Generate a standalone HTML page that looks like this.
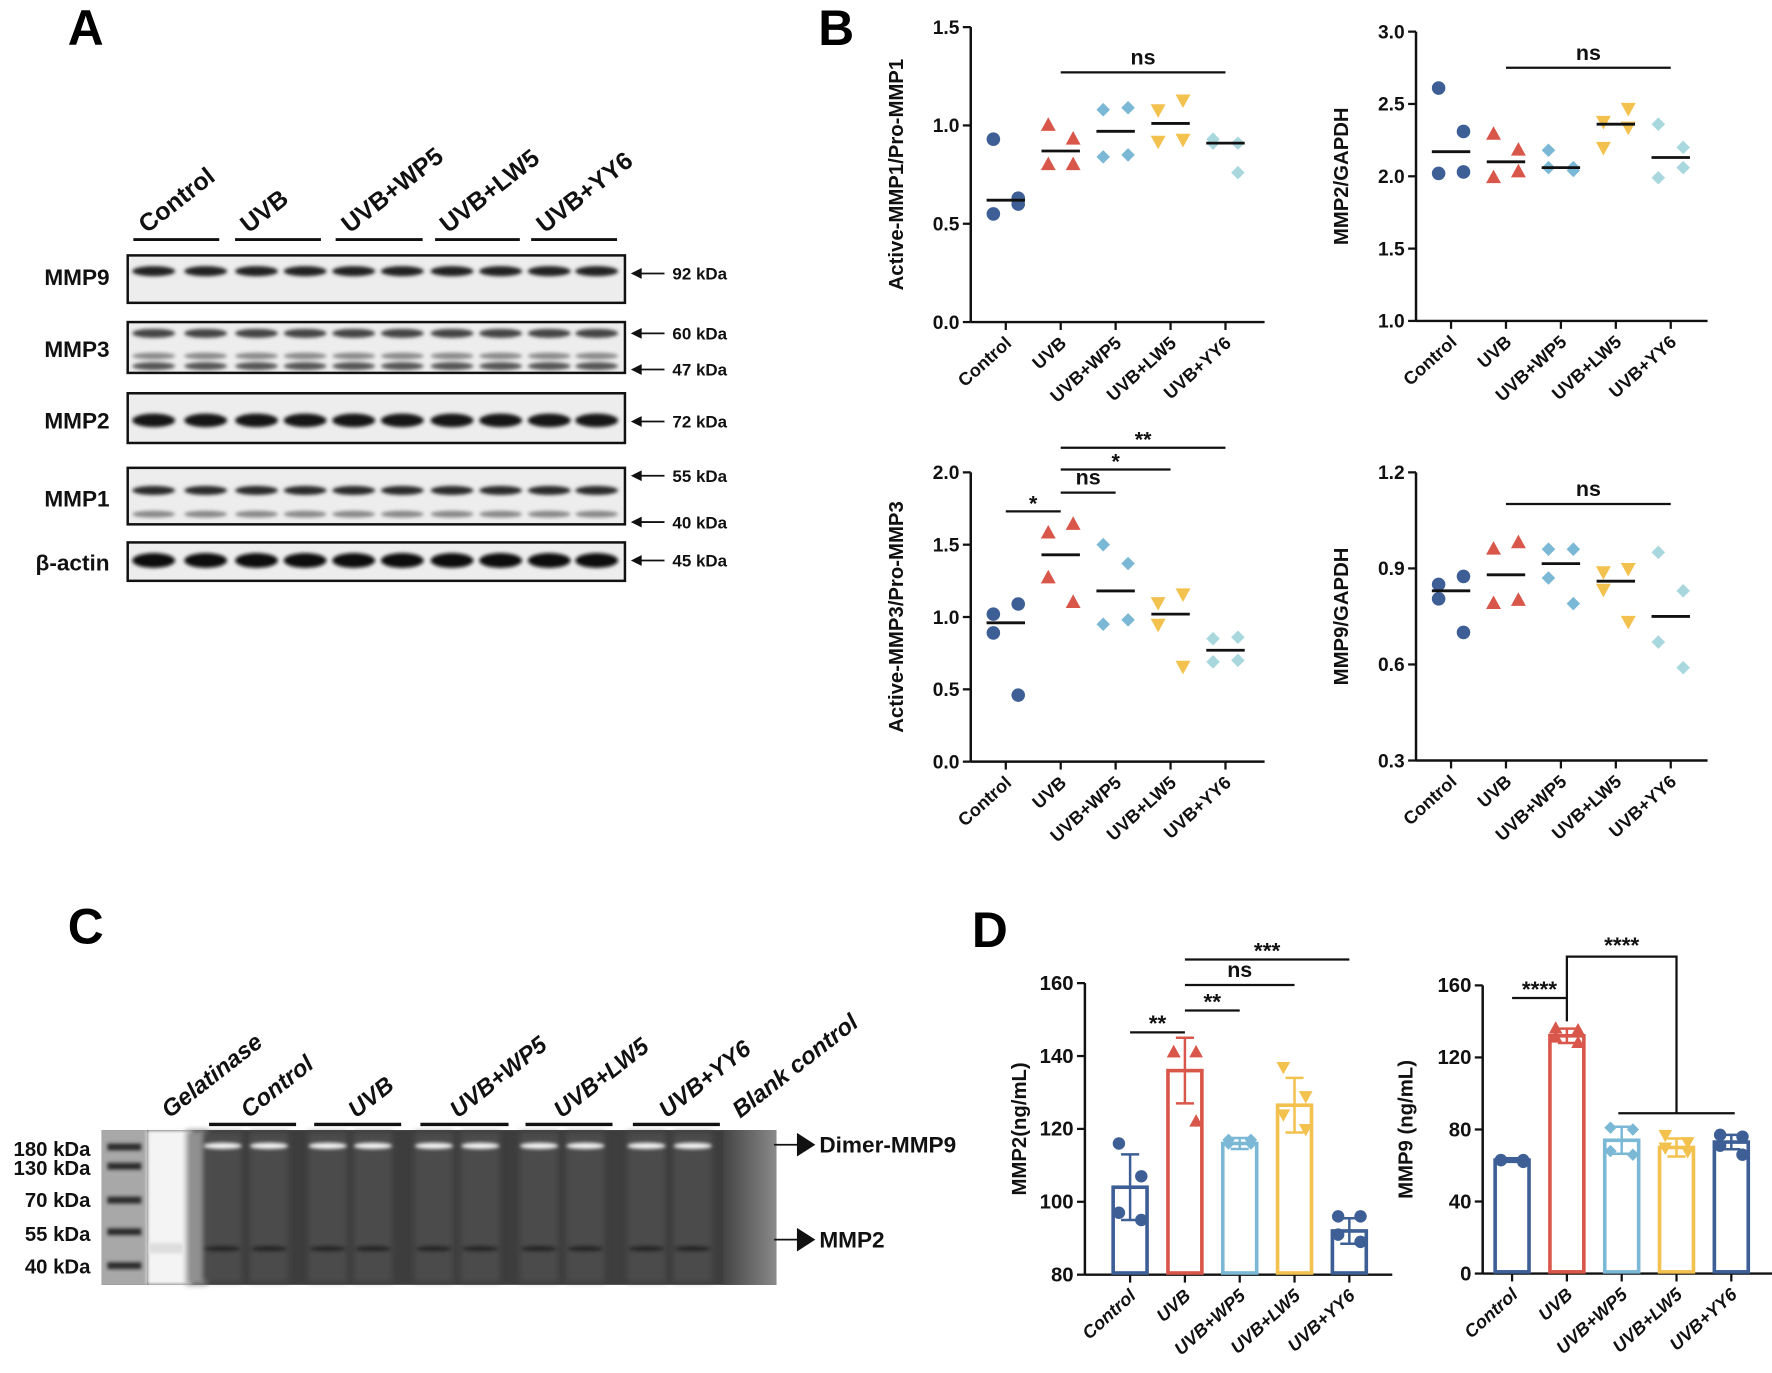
<!DOCTYPE html>
<html><head><meta charset="utf-8">
<style>
html,body{margin:0;padding:0;background:#fff;}
svg{display:block;font-family:"Liberation Sans",Arial,sans-serif;font-weight:bold;}
</style></head>
<body>
<svg id="fig" width="1772" height="1373" viewBox="0 0 1568 1215" preserveAspectRatio="none" xmlns="http://www.w3.org/2000/svg">
<defs>
<filter id="blur1" x="-20%" y="-50%" width="140%" height="200%"><feGaussianBlur stdDeviation="1.6"/></filter>
<filter id="blur2" x="-20%" y="-50%" width="140%" height="200%"><feGaussianBlur stdDeviation="2.5"/></filter>
<linearGradient id="blankg" x1="0" x2="1" y1="0" y2="0"><stop offset="0" stop-color="#444"/><stop offset="1" stop-color="#8a8a8a"/></linearGradient>
</defs>
<g id="panelA"></g>
<g id="panelB"></g>
<g id="panelC"></g>
<g id="panelD"></g>
</svg>
<script>
const NS = "http://www.w3.org/2000/svg";
function mk(tag, attrs, parent, txt) {
  const e = document.createElementNS(NS, tag);
  for (const k in attrs) e.setAttribute(k, attrs[k]);
  if (txt !== undefined) e.textContent = txt;
  parent.appendChild(e);
  return e;
}
// ---------- shared data ----------
const categories = ["Control", "UVB", "UVB+WP5", "UVB+LW5", "UVB+YY6"];
const colorsB = ["#3d5f96", "#d9574a", "#7ab8d6", "#f2c14e", "#a8d8de"];
const colorsD = ["#3d5f96", "#d9574a", "#7ab8d6", "#f2c14e", "#3d5f96"];
const markerShapes = ["circle", "tri-up", "diamond", "tri-down", "diamond"];

// B1 Active-MMP1/Pro-MMP1
const b1Points = [[0.93,0.63,0.55,0.60],[1.00,0.93,0.80,0.80],[1.08,1.09,0.84,0.85],[1.08,1.13,0.92,0.93],[0.93,0.91,0.91,0.76]];
const b1Means = [0.62,0.87,0.97,1.01,0.91];
const b1Ticks = [0.0,0.5,1.0,1.5];
// B2 MMP2/GAPDH
const b2Points = [[2.61,2.31,2.02,2.03],[2.29,2.18,1.99,2.03],[2.18,2.04,2.06,2.06],[2.38,2.47,2.20,2.34],[2.36,2.20,1.99,2.06]];
const b2Means = [2.17,2.10,2.06,2.36,2.13];
const b2Ticks = [1.0,1.5,2.0,2.5,3.0];
// B3 Active-MMP3/Pro-MMP3
const b3Points = [[1.02,1.09,0.89,0.46],[1.58,1.64,1.27,1.10],[1.50,1.37,0.95,0.98],[1.10,1.16,0.95,0.66],[0.85,0.86,0.69,0.70]];
const b3Means = [0.96,1.43,1.18,1.02,0.77];
const b3Ticks = [0.0,0.5,1.0,1.5,2.0];
// B4 MMP9/GAPDH
const b4Points = [[0.85,0.875,0.805,0.70],[0.96,0.98,0.79,0.80],[0.96,0.96,0.87,0.79],[0.89,0.90,0.835,0.735],[0.95,0.83,0.67,0.59]];
const b4Means = [0.83,0.88,0.915,0.86,0.75];
const b4Ticks = [0.3,0.6,0.9,1.2];
// D1 MMP2 ng/mL
const d1Means = [104,136,116,126.5,92];
const d1SD = [9,9,1.5,7.5,3.5];
const d1Points = [[116,107,97,95],[141,141,141,122],[117,117,116,116],[137,129,124,120],[96,96,91,89]];
const d1Ticks = [80,100,120,140,160];
// D2 MMP9 ng/mL
const d2Means = [63,132,74,70,73];
const d2SD = [1,4,7.5,5,4];
const d2Points = [[63,63,63,62],[136,135,131,128],[81,80,68,66],[77,73,70,68],[77,76,71,66]];
const d2Ticks = [0,40,80,120,160];

const jitter = [-11, 11, -11, 11];

// ---------- marker ----------
function marker(g, shape, x, y, r, color, name) {
  let el;
  if (shape === "circle") el = mk("circle", {cx:x, cy:y, r:r, fill:color}, g);
  else if (shape === "tri-up") el = mk("polygon", {points:`${x},${y-r*1.2} ${x-r*1.1},${y+r*0.8} ${x+r*1.1},${y+r*0.8}`, fill:color}, g);
  else if (shape === "tri-down") el = mk("polygon", {points:`${x},${y+r*1.2} ${x-r*1.1},${y-r*0.8} ${x+r*1.1},${y-r*0.8}`, fill:color}, g);
  else el = mk("polygon", {points:`${x},${y-r} ${x+r},${y} ${x},${y+r} ${x-r},${y}`, fill:color}, g);
  
  
  return el;
}

// ---------- axes ----------
function axes(g, ax, yTop, yBot, xEnd, vMin, vMax, ticks, title, fmt, xs, titleX, italicX, tfs) {
  const ys = v => yBot - (v - vMin) / (vMax - vMin) * (yBot - yTop);
  const yl = mk("line", {x1:ax, y1:yTop, x2:ax, y2:yBot, stroke:"#111", "stroke-width":2.2}, g);
  
  
  const xl = mk("line", {x1:ax, y1:yBot, x2:xEnd, y2:yBot, stroke:"#111", "stroke-width":2.2}, g);
  
  
  ticks.forEach(t => {
    const y = ys(t);
    mk("line", {x1:ax-7, y1:y, x2:ax, y2:y, stroke:"#111", "stroke-width":2}, g);
    const tl = mk("text", {x:ax-10, y:y+6, "text-anchor":"end", "font-size":tfs, fill:"#111"}, g, fmt(t));
    
    
  });
  xs.forEach((x, i) => {
    mk("line", {x1:x, y1:yBot, x2:x, y2:yBot+7, stroke:"#111", "stroke-width":2}, g);
    const t = mk("text", {x:0, y:0, "text-anchor":"end", "font-size":16, fill:"#111", "font-style": italicX ? "italic" : "normal", transform:`translate(${x+6},${yBot+20}) rotate(-42)`}, g, categories[i]);
    
    
  });
  const tt = mk("text", {x:0, y:0, "text-anchor":"middle", "font-size":18, fill:"#111", transform:`translate(${titleX},${(yTop+yBot)/2}) rotate(-90)`}, g, title);
  
  
  return ys;
}
function sigBar(g, x1, x2, y, label, fs) {
  const l = mk("line", {x1:x1, y1:y, x2:x2, y2:y, stroke:"#111", "stroke-width":2}, g);
  
  
  const t = mk("text", {x:(x1+x2)/2, y:y-(label==="ns"?7:1), "text-anchor":"middle", "font-size":fs||19, fill:"#111"}, g, label);
  
  
}

// ---------- Panel B ----------
const pB = document.getElementById("panelB");
const lb = mk("text", {x:724, y:40, "font-size":44, fill:"#000"}, pB, "B");



function scatter(id, ax, yTop, yBot, xEnd, vMin, vMax, ticks, points, means, title) {
  const g = mk("g", {}, pB);
  
  
  const xs = categories.map((c, i) => ax + 31 + i * 48.6);
  const ys = axes(g, ax, yTop, yBot, xEnd, vMin, vMax, ticks, title, t => t.toFixed(1), xs, ax - 60, false, 17);
  points.forEach((grp, i) => {
    grp.forEach((v, j) => marker(g, markerShapes[i], xs[i] + jitter[j], ys(v), 6, colorsB[i], 'point-' + categories[i].toLowerCase().replace('+', '-')));
  });
  means.forEach((m, i) => {
    const l = mk("line", {x1:xs[i]-17, y1:ys(m), x2:xs[i]+17, y2:ys(m), stroke:"#111", "stroke-width":2.5}, g);
    
    
  });
  return {g, xs, ys};
}
const B1 = scatter("chart-mmp1-ratio", 859, 24, 285, 1119, 0, 1.5, b1Ticks, b1Points, b1Means, "Active-MMP1/Pro-MMP1");
sigBar(B1.g, B1.xs[1], B1.xs[4], 64, "ns");
const B2 = scatter("chart-mmp2-gapdh", 1253, 28, 284, 1511, 1.0, 3.0, b2Ticks, b2Points, b2Means, "MMP2/GAPDH");
sigBar(B2.g, B2.xs[1], B2.xs[4], 60, "ns");
const B3 = scatter("chart-mmp3-ratio", 859, 418, 674, 1119, 0, 2.0, b3Ticks, b3Points, b3Means, "Active-MMP3/Pro-MMP3");
sigBar(B3.g, B3.xs[0], B3.xs[1], B3.ys(1.73), "*");
sigBar(B3.g, B3.xs[1], B3.xs[2], B3.ys(1.86), "ns");
sigBar(B3.g, B3.xs[1], B3.xs[3], B3.ys(2.02), "*");
sigBar(B3.g, B3.xs[1], B3.xs[4], B3.ys(2.17), "**");
const B4 = scatter("chart-mmp9-gapdh", 1253, 418, 673, 1511, 0.3, 1.2, b4Ticks, b4Points, b4Means, "MMP9/GAPDH");
sigBar(B4.g, B4.xs[1], B4.xs[4], 446, "ns");

// ---------- Panel D ----------
const pD = document.getElementById("panelD");
const ld = mk("text", {x:860, y:838, "font-size":44, fill:"#000"}, pD, "D");


function barChart(id, ax, x0, yTop, yBot, xEnd, vMin, vMax, ticks, means, sds, points, title, titleX) {
  const g = mk("g", {}, pD);
  
  
  const xs = categories.map((c, i) => x0 + i * 48.5);
  const ys = axes(g, ax, yTop, yBot, xEnd, vMin, vMax, ticks, title, t => String(t), xs, titleX, true, 18);
  means.forEach((m, i) => {
    const b = mk("rect", {x:xs[i]-15, y:ys(m), width:30, height:yBot-ys(m)-1.5, fill:"#fff", stroke:colorsD[i], "stroke-width":3.2}, g);
    
    
    const hi = ys(m + sds[i]), lo = ys(m - sds[i]);
    const eb = mk("path", {d:`M${xs[i]},${hi} V${lo} M${xs[i]-8},${hi} H${xs[i]+8} M${xs[i]-8},${lo} H${xs[i]+8}`, stroke:colorsD[i], "stroke-width":2.2, fill:"none"}, g);
    
    
  });
  points.forEach((grp, i) => {
    grp.forEach((v, j) => marker(g, markerShapes[i] === "diamond" && i === 4 ? "circle" : markerShapes[i], xs[i] + jitter[j] * 0.9, ys(v), 5.5, colorsD[i], 'point-' + categories[i].toLowerCase().replace('+', '-')));
  });
  return {g, xs, ys};
}
const D1 = barChart("chart-mmp2-elisa", 960, 1000, 870, 1128, 1232, 80, 160, d1Ticks, d1Means, d1SD, d1Points, "MMP2(ng/mL)", 908);
sigBar(D1.g, D1.xs[0], D1.xs[1], D1.ys(146.5), "**", 20);
sigBar(D1.g, D1.xs[1], D1.xs[2], D1.ys(152.5), "**", 20);
sigBar(D1.g, D1.xs[1], D1.xs[3], D1.ys(159.5), "ns", 19);
sigBar(D1.g, D1.xs[1], D1.xs[4], D1.ys(166.5), "***", 20);
const D2 = barChart("chart-mmp9-elisa", 1312, 1338, 872, 1127, 1568, 0, 160, d2Ticks, d2Means, d2SD, d2Points, "MMP9 (ng/mL)", 1250);
sigBar(D2.g, D2.xs[0], D2.xs[1], D2.ys(153), "****", 20);
(function(){
  const g = D2.g, xs = D2.xs, ys = D2.ys;
  const br = mk("path", {d:`M${xs[1]},${ys(140)} V${ys(176)} H${xs[3]} V${ys(89)} M${xs[2]-3},${ys(89)} H${xs[4]+3}`, stroke:"#111", "stroke-width":2, fill:"none"}, g);
  
  
  const t = mk("text", {x:(xs[1]+xs[3])/2, y:ys(176)-3, "text-anchor":"middle", "font-size":20, fill:"#111"}, g, "****");
  
  
})();

// ---------- Panel A (western blot) ----------
const pA = document.getElementById("panelA");
const la = mk("text", {x:60, y:40, "font-size":44, fill:"#000"}, pA, "A");


const groupLinesA = [[118,194],[208,284],[297,374],[385,460],[470,546]];
groupLinesA.forEach((r, i) => {
  const l = mk("line", {x1:r[0], y1:212, x2:r[1], y2:212, stroke:"#111", "stroke-width":2.5}, pA);
  
  
  const t = mk("text", {x:0, y:0, "font-size":22, fill:"#111", transform:`translate(${(r[0]+r[1])/2-26},${207}) rotate(-38)`}, pA, categories[i]);
  
  
});
const lanesA = [136,182,227,270,313,356,400,443,486,528];
const blots = [
  {name:"MMP9", y0:226, y1:268, ly:252, bands:[[240,7,"#222"]], kda:[["92 kDa",242]]},
  {name:"MMP3", y0:285, y1:330, ly:316, bands:[[295,6,"#444"],[315,4,"#8a8a8a"],[324,5,"#555"]], kda:[["60 kDa",295],["47 kDa",327]]},
  {name:"MMP2", y0:348, y1:392, ly:379, bands:[[372,10,"#151515"]], kda:[["72 kDa",373]]},
  {name:"MMP1", y0:414, y1:464, ly:448, bands:[[434,6,"#2a2a2a"],[455,4,"#888"]], kda:[["55 kDa",421],["40 kDa",462]]},
  {name:"β-actin", y0:480, y1:514, ly:505, bands:[[496,11,"#0a0a0a"]], kda:[["45 kDa",496]]}
];
blots.forEach(b => {
  const g = mk("g", {}, pA);
  
  
  mk("rect", {x:113, y:b.y0, width:440, height:b.y1-b.y0, fill:"#ededed"}, g);
  b.bands.forEach(bd => lanesA.forEach(x => {
    const e = mk("ellipse", {cx:x, cy:bd[0], rx:19, ry:bd[1]/2+1, fill:bd[2], filter:"url(#blur1)"}, g);
    
    
  }));
  mk("rect", {x:113, y:b.y0, width:440, height:b.y1-b.y0, fill:"none", stroke:"#111", "stroke-width":2.2}, g);
  const t = mk("text", {x:97, y:b.ly, "text-anchor":"end", "font-size":20, fill:"#111"}, g, b.name);
  
  
  b.kda.forEach(k => {
    mk("path", {d:`M560,${k[1]} H588 M560,${k[1]} l7,-3.5 v7 z`, stroke:"#111", "stroke-width":1.6, fill:"#111"}, g);
    const kt = mk("text", {x:595, y:k[1]+5.5, "font-size":15, fill:"#111"}, g, k[0]);
    
    
  });
});

// ---------- Panel C (zymography) ----------
const pC = document.getElementById("panelC");
const lc = mk("text", {x:60, y:835, "font-size":44, fill:"#000"}, pC, "C");


const groupLinesC = [[185,262],[278,355],[372,450],[465,542],[560,637]];
const laneLabelsC = ["Gelatinase","Control","UVB","UVB+WP5","UVB+LW5","UVB+YY6","Blank control"];
const laneLabelXC = [150,220,315,405,497,590,655];
laneLabelsC.forEach((s, i) => {
  const t = mk("text", {x:0, y:0, "font-size":21, "font-style":"italic", fill:"#111", transform:`translate(${laneLabelXC[i]},${990}) rotate(-38)`}, pC, s);
  
  
});
groupLinesC.forEach(r => {
  const l = mk("line", {x1:r[0], y1:995, x2:r[1], y2:995, stroke:"#111", "stroke-width":3}, pC);
  
  
});
const gel = mk("g", {}, pC);


mk("rect", {x:90, y:1000, width:597, height:137, fill:"#3d3d3d"}, gel);
mk("rect", {x:90, y:1000, width:40, height:137, fill:"#a8a8a8"}, gel);
mk("rect", {x:130, y:1000, width:40, height:137, fill:"#f4f4f4", filter:"url(#blur1)"}, gel);
mk("rect", {x:165, y:1000, width:18, height:137, fill:"#909090", filter:"url(#blur2)"}, gel);
mk("rect", {x:640, y:1000, width:47, height:137, fill:"url(#blankg)"}, gel);
[1015,1032,1062,1090,1120].forEach(y => mk("rect", {x:95, y:y-3, width:30, height:6, fill:"#2a2a2a", filter:"url(#blur1)"}, gel));
mk("rect", {x:132, y:1100, width:30, height:9, fill:"#ddd", filter:"url(#blur1)"}, gel);
const lanesC = [197,238,290,330,384,425,477,518,572,613];
lanesC.forEach(x => {
  mk("rect", {x:x-17, y:1002, width:34, height:132, fill:"#4c4c4c", filter:"url(#blur2)"}, gel);
  const bnd = mk("ellipse", {cx:x, cy:1014, rx:17, ry:2.8, fill:"#f5f5f5", filter:"url(#blur1)"}, gel);
  
  
  mk("ellipse", {cx:x, cy:1105, rx:16, ry:2.5, fill:"#262626", filter:"url(#blur1)"}, gel);
});
[["180 kDa",1023],["130 kDa",1040],["70 kDa",1068],["55 kDa",1098],["40 kDa",1127]].forEach(k => {
  const t = mk("text", {x:80, y:k[1], "text-anchor":"end", "font-size":18, fill:"#111"}, pC, k[0]);
  
  
});
[["Dimer-MMP9",1013],["MMP2",1097]].forEach(k => {
  mk("path", {d:`M685,${k[1]} H706 M706,${k[1]-9} L720,${k[1]} L706,${k[1]+9} z`, stroke:"#111", "stroke-width":1.6, fill:"#111"}, pC);
  const t = mk("text", {x:725, y:k[1]+7, "font-size":20, fill:"#111"}, pC, k[0]);
  
  
});
</script>
</body></html>
